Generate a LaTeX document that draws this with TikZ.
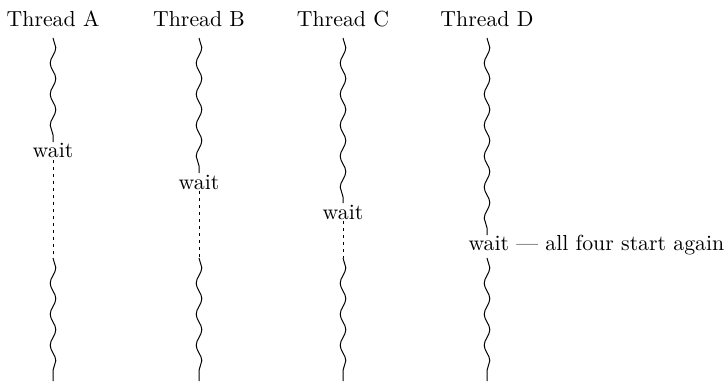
\documentclass[tikz,border=0pt]{standalone}
\usepackage{tikz}
\usetikzlibrary{decorations.pathmorphing,positioning}

\begin{document}
\begin{tikzpicture}[x=0.5pt,y=-0.5pt,line width=0.5pt,
  every node/.style={font=\fontsize{10.9}{13}\selectfont,inner sep=1pt},
  wavy/.style={decorate,decoration={snake,amplitude=1.4pt,segment length=15.5pt}},
  waitline/.style={dash pattern=on 1.4pt off 2.1pt}]

\useasboundingbox (0,0) rectangle (727,382);

\node (tA) at (53,19)   {Thread A};
\node (tB) at (199,19)  {Thread B};
\node (tC) at (343,19)  {Thread C};
\node (tD) at (487,19)  {Thread D};

\node (wA) at (53,150)  {wait};
\node (wB) at (199,182) {wait};
\node (wC) at (343,212) {wait};
\node[anchor=west] (wD) at (466,245) {wait --- all four start again};

\foreach \t/\x/\a/\b in {% thread/x/wait top/wait bottom
	 A/53/142/160,
	 B/199/173/191,
	 C/343/203/221,
	 D/487/235/255}
{
	\coordinate (s\t) at (\x,38);
	\coordinate (p\t) at (\x,\a);
	\coordinate (q\t) at (\x,\b);
	\coordinate (r\t) at (\x,258);
	\coordinate (e\t) at (\x,381);
}

\foreach \t in {A,B,C,D}
	\draw[wavy] (s\t) -- (p\t);

\foreach \t in {A,B,C}
	\draw[waitline] (q\t) -- (r\t);

\foreach \t in {A,B,C,D}
	\draw[wavy] (r\t) -- (e\t);

\end{tikzpicture}
\end{document}
